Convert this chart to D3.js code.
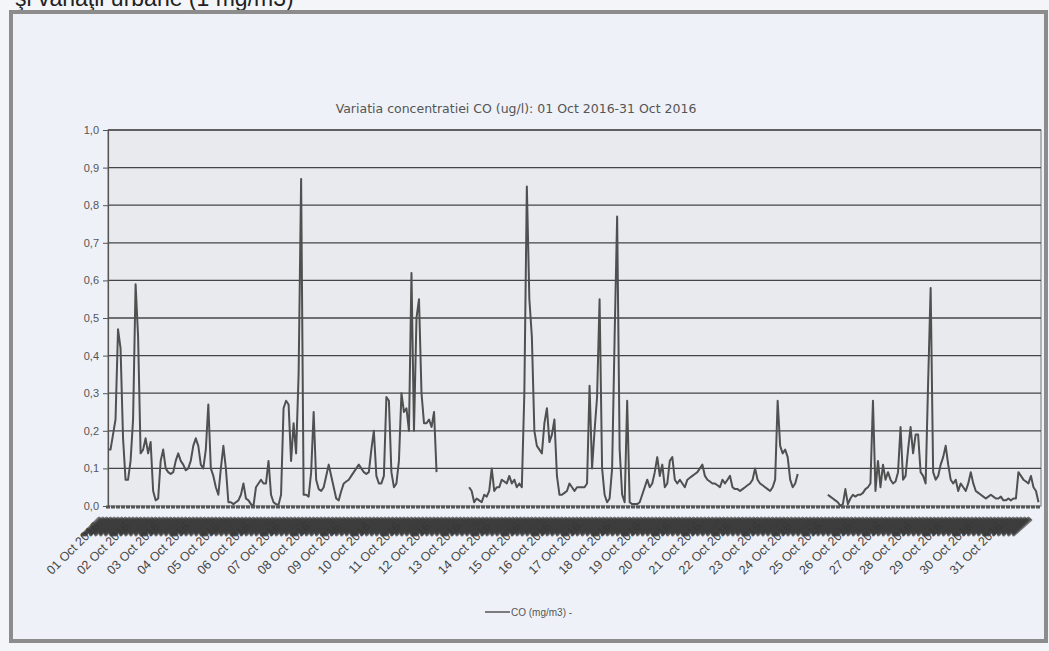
<!DOCTYPE html>
<html>
<head>
<meta charset="utf-8">
<script src="https://cdn.jsdelivr.net/npm/d3@7"></script>
<style>
  html, body { margin: 0; padding: 0; background: #f3f5f9; }
  svg { display: block; }
</style>
</head>
<body>
<div id="chart"></div>
<script>
// CO readings, one value every 2 hours (12 per day), null = no data
const dayLabels = d3.range(1, 32).map(d => (d < 10 ? '0' + d : '' + d) + ' Oct 2016');
const yTicks = [0, 0.1, 0.2, 0.3, 0.4, 0.5, 0.6, 0.7, 0.8, 0.9, 1.0];
const coValues = [
  [0.15, 0.15, 0.19, 0.23, 0.47, 0.42, 0.18, 0.07, 0.07, 0.12, 0.23, 0.59], // 01
  [0.45, 0.14, 0.15, 0.18, 0.14, 0.17, 0.04, 0.015, 0.02, 0.12, 0.15, 0.10], // 02
  [0.09, 0.085, 0.09, 0.12, 0.14, 0.12, 0.11, 0.095, 0.10, 0.12, 0.16, 0.18], // 03
  [0.16, 0.11, 0.10, 0.15, 0.27, 0.10, 0.08, 0.05, 0.03, 0.10, 0.16, 0.10], // 04
  [0.01, 0.01, 0.005, 0.01, 0.015, 0.03, 0.06, 0.02, 0.015, 0.005, 0.0, 0.05], // 05
  [0.06, 0.07, 0.06, 0.06, 0.12, 0.03, 0.01, 0.005, 0.003, 0.03, 0.26, 0.28], // 06
  [0.27, 0.12, 0.22, 0.14, 0.35, 0.87, 0.03, 0.03, 0.025, 0.09, 0.25, 0.07], // 07
  [0.045, 0.04, 0.05, 0.08, 0.11, 0.08, 0.05, 0.02, 0.015, 0.04, 0.06, 0.065], // 08
  [0.07, 0.08, 0.09, 0.10, 0.11, 0.10, 0.09, 0.085, 0.09, 0.15, 0.20, 0.08], // 09
  [0.06, 0.06, 0.08, 0.29, 0.28, 0.09, 0.05, 0.06, 0.12, 0.30, 0.25, 0.26], // 10
  [0.20, 0.62, 0.20, 0.50, 0.55, 0.30, 0.22, 0.22, 0.23, 0.21, 0.25, 0.09], // 11
  [null, null, null, null, null, null, null, null, null, null, null, null], // 12
  [0.05, 0.04, 0.01, 0.02, 0.015, 0.01, 0.03, 0.025, 0.04, 0.10, 0.04, 0.05], // 13
  [0.05, 0.07, 0.065, 0.06, 0.08, 0.06, 0.07, 0.05, 0.06, 0.05, 0.30, 0.85], // 14
  [0.55, 0.45, 0.20, 0.16, 0.15, 0.14, 0.22, 0.26, 0.17, 0.19, 0.23, 0.08], // 15
  [0.03, 0.03, 0.035, 0.04, 0.06, 0.05, 0.04, 0.05, 0.05, 0.05, 0.05, 0.06], // 16
  [0.32, 0.10, 0.20, 0.29, 0.55, 0.10, 0.03, 0.01, 0.02, 0.10, 0.45, 0.77], // 17
  [0.15, 0.03, 0.01, 0.28, 0.01, 0.005, 0.005, 0.005, 0.01, 0.03, 0.05, 0.07], // 18
  [0.05, 0.06, 0.09, 0.13, 0.08, 0.11, 0.05, 0.06, 0.12, 0.13, 0.07, 0.06], // 19
  [0.07, 0.06, 0.05, 0.07, 0.075, 0.08, 0.085, 0.09, 0.10, 0.11, 0.08, 0.07], // 20
  [0.065, 0.06, 0.06, 0.055, 0.05, 0.07, 0.06, 0.07, 0.08, 0.05, 0.045, 0.045], // 21
  [0.04, 0.045, 0.05, 0.055, 0.06, 0.07, 0.10, 0.07, 0.06, 0.055, 0.05, 0.045], // 22
  [0.04, 0.05, 0.07, 0.28, 0.16, 0.14, 0.15, 0.13, 0.07, 0.05, 0.06, 0.085], // 23
  [null, null, null, null, null, null, null, null, null, null, null, 0.03], // 24
  [0.025, 0.02, 0.015, 0.01, 0.0, 0.005, 0.045, 0.005, 0.02, 0.03, 0.025, 0.03], // 25
  [0.03, 0.035, 0.045, 0.05, 0.06, 0.28, 0.04, 0.12, 0.05, 0.11, 0.07, 0.09], // 26
  [0.07, 0.06, 0.065, 0.09, 0.21, 0.07, 0.08, 0.15, 0.21, 0.14, 0.19, 0.19], // 27
  [0.09, 0.08, 0.06, 0.33, 0.58, 0.09, 0.07, 0.08, 0.11, 0.13, 0.16, 0.11], // 28
  [0.07, 0.06, 0.07, 0.04, 0.06, 0.05, 0.04, 0.06, 0.09, 0.06, 0.04, 0.035], // 29
  [0.03, 0.025, 0.02, 0.025, 0.03, 0.025, 0.02, 0.02, 0.025, 0.015, 0.015, 0.02], // 30
  [0.015, 0.02, 0.02, 0.09, 0.08, 0.07, 0.065, 0.06, 0.08, 0.05, 0.04, 0.01]  // 31
];

const W = 1049, H = 651;
const plot = { left: 108, right: 1041, top: 130, bottom: 506 };

const svg = d3.select('#chart').append('svg')
  .attr('width', W)
  .attr('height', H);

// page header text, cut off at the top of the scan
svg.append('text')
  .attr('x', 15)
  .attr('y', 6)
  .attr('font-family', 'Liberation Sans, Arial, sans-serif')
  .attr('font-size', 23)
  .attr('fill', '#222')
  .text('şi variaţii urbane (1 mg/m3)');

// outer frame
svg.append('rect')
  .attr('x', 11).attr('y', 12)
  .attr('width', 1035).attr('height', 629)
  .attr('fill', '#eef1f7')
  .attr('stroke', '#8c8c8c')
  .attr('stroke-width', 4);

const x = d3.scaleLinear().domain([0, 31 * 24]).range([plot.left, plot.right]);
const y = d3.scaleLinear().domain([0, 1]).range([plot.bottom, plot.top]);

// plot area
svg.append('rect')
  .attr('x', plot.left).attr('y', plot.top)
  .attr('width', plot.right - plot.left).attr('height', plot.bottom - plot.top)
  .attr('fill', '#e8eaee')
  .attr('stroke', '#777')
  .attr('stroke-width', 1);

// title
svg.append('text')
  .attr('x', 516)
  .attr('y', 113)
  .attr('text-anchor', 'middle')
  .attr('font-family', 'DejaVu Sans, Verdana, sans-serif')
  .attr('font-size', 12.5)
  .attr('fill', '#555')
  .text('Variatia concentratiei CO (ug/l): 01 Oct 2016-31 Oct 2016');

// gridlines
svg.append('g')
  .selectAll('line')
  .data(yTicks.filter(t => t > 0))
  .join('line')
  .attr('x1', plot.left).attr('x2', plot.right)
  .attr('y1', d => y(d)).attr('y2', d => y(d))
  .attr('stroke', '#454545')
  .attr('stroke-width', 1.3);

// y axis
const yAxis = svg.append('g')
  .attr('transform', `translate(${plot.left},0)`)
  .call(d3.axisLeft(y).tickValues(yTicks).tickSize(5)
    .tickFormat(d => d3.format('.1f')(d).replace('.', ',')));
yAxis.select('.domain').attr('stroke', '#555').attr('stroke-width', 1.2);
yAxis.selectAll('.tick line').attr('stroke', '#555');
yAxis.selectAll('.tick text')
  .attr('font-family', 'Liberation Sans, Arial, sans-serif')
  .attr('font-size', 11)
  .attr('fill', '#555')
  .attr('dx', -1);

// flatten series to hourly positions
const points = [];
coValues.forEach((day, di) => {
  day.forEach((v, si) => points.push({ h: di * 24 + si * 2, v: v }));
});

const line = d3.line()
  .defined(d => d.v !== null)
  .x(d => x(d.h))
  .y(d => y(d.v));

svg.append('path')
  .datum(points)
  .attr('fill', 'none')
  .attr('stroke', '#505050')
  .attr('stroke-width', 2)
  .attr('stroke-linejoin', 'round')
  .attr('d', line);

// category axis: dashed baseline of hourly ticks
svg.append('line')
  .attr('x1', plot.left - 2).attr('x2', plot.right)
  .attr('y1', plot.bottom + 1).attr('y2', plot.bottom + 1)
  .attr('stroke', '#555')
  .attr('stroke-width', 3)
  .attr('stroke-dasharray', '4,1');

// day labels
svg.append('g')
  .selectAll('text')
  .data(dayLabels)
  .join('text')
  .attr('transform', (d, i) => `translate(${x(i * 24) - 8},${plot.bottom + 21}) rotate(-45)`)
  .attr('text-anchor', 'end')
  .attr('font-family', 'Liberation Sans, Arial, sans-serif')
  .attr('font-size', 12.5)
  .attr('fill', '#444')
  .text(d => d);

// overlapping hourly labels form a dark band below the axis
const hours = d3.range(0, 31 * 24);
svg.append('g')
  .selectAll('line')
  .data(hours)
  .join('line')
  .attr('x1', d => x(d) - 9)
  .attr('y1', d => plot.bottom + 12 + (d % 3))
  .attr('x2', d => x(d) - 23 - (d % 24 < 3 ? 3 : d % 4))
  .attr('y2', d => plot.bottom + 26 + (d % 24 < 3 ? 3 : d % 4))
  .attr('stroke', '#383838')
  .attr('stroke-width', 3)
  .attr('stroke-linecap', 'round')
  .attr('opacity', 0.65);

// legend
svg.append('line')
  .attr('x1', 485).attr('x2', 510)
  .attr('y1', 612).attr('y2', 612)
  .attr('stroke', '#555')
  .attr('stroke-width', 1.5);
svg.append('text')
  .attr('x', 511)
  .attr('y', 615.5)
  .attr('font-family', 'Liberation Sans, Arial, sans-serif')
  .attr('font-size', 10)
  .attr('fill', '#555')
  .text('CO (mg/m3)  -');
</script>
</body>
</html>
